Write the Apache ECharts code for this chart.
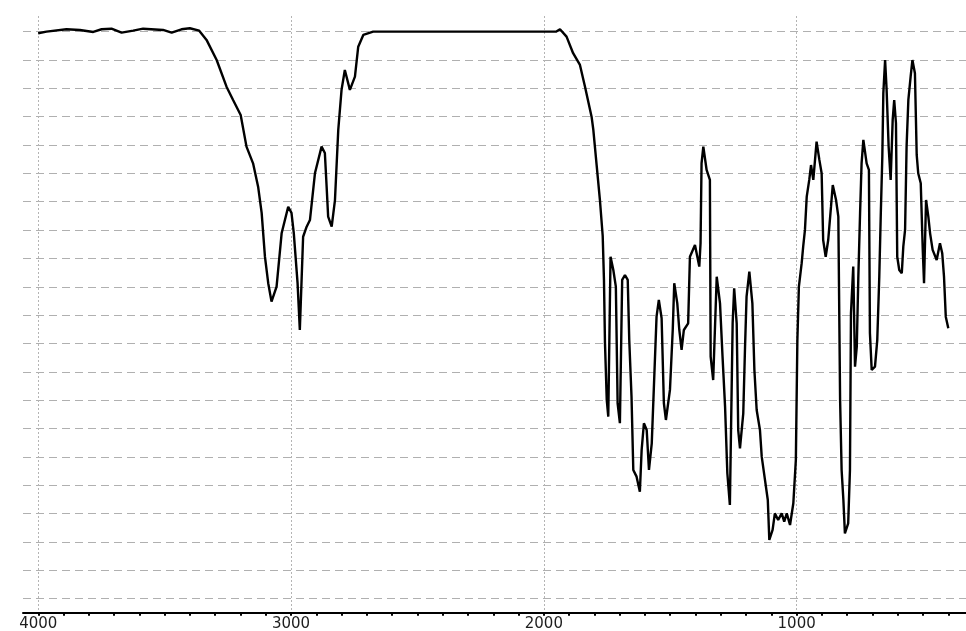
<!DOCTYPE html>
<html>
<head>
<meta charset="utf-8">
<script src="https://cdn.jsdelivr.net/npm/echarts@6/dist/echarts.min.js"></script>
<style>
html,body{margin:0;padding:0;background:#fff;}
#chart{width:966px;height:631px;}
</style>
</head>
<body>
<div id="chart"></div>
<script>
// Wavenumber (cm-1) and relative transmittance (grid units, 0..42)
const wavenumbers = [4000,3967,3888,3835,3782,3749,3710,3670,3624,3585,3506,3472,3433,3400,3363,3334,3294,3255,3229,3199,3176,3150,3130,3116,3103,3090,3077,3057,3037,3011,2998,2989,2974,2965,2952,2938,2925,2905,2879,2866,2859,2853,2839,2826,2813,2800,2787,2767,2747,2734,2714,2675,1952,1936,1910,1884,1857,1837,1811,1804,1791,1778,1767,1762,1758,1751,1745,1736,1725,1715,1708,1699,1690,1679,1668,1662,1653,1646,1633,1620,1613,1604,1593,1584,1573,1564,1554,1545,1534,1525,1517,1501,1490,1484,1472,1464,1455,1446,1429,1422,1402,1385,1380,1376,1369,1356,1343,1340,1330,1316,1303,1293,1283,1274,1264,1253,1247,1237,1231,1224,1211,1204,1198,1187,1175,1167,1158,1145,1138,1125,1114,1108,1095,1086,1073,1059,1049,1039,1026,1013,1003,997,991,980,974,967,960,950,943,934,921,910,901,895,885,875,864,857,844,835,828,822,815,809,796,789,785,776,769,762,756,749,743,736,723,714,710,703,690,681,673,667,661,657,650,644,636,628,620,614,607,602,594,584,578,571,565,558,549,542,532,525,519,509,501,496,488,479,472,462,446,433,424,417,410,400];
const transmittance = [40.89,41.00,41.17,41.12,40.98,41.17,41.21,40.93,41.07,41.21,41.12,40.93,41.17,41.24,41.07,40.42,39.00,37.12,36.18,35.12,32.89,31.71,30.06,28.21,25.12,23.25,21.95,23.01,26.77,28.65,28.21,26.80,23.27,19.95,26.53,27.24,27.71,31.03,32.89,32.44,30.06,27.95,27.24,29.12,34.06,36.89,38.30,36.89,37.83,39.94,40.77,41.00,41.00,41.17,40.65,39.48,38.65,37.12,35.00,34.06,31.59,29.12,26.58,23.48,19.03,15.01,13.83,25.12,24.18,23.01,14.78,13.37,23.48,23.83,23.48,19.24,15.24,10.07,9.60,8.54,11.48,13.37,12.89,10.07,11.95,16.19,20.89,22.07,20.78,14.78,13.60,15.72,19.95,23.25,21.83,19.95,18.54,19.95,20.42,25.12,25.95,24.42,26.07,31.71,32.89,31.24,30.54,18.07,16.42,23.71,21.83,18.07,14.54,9.84,7.60,20.42,22.89,20.42,12.89,11.60,14.07,18.77,22.30,24.06,21.83,17.13,14.30,12.89,11.01,9.36,7.95,5.13,5.84,7.01,6.54,7.01,6.42,7.01,6.19,7.72,10.78,19.24,23.01,24.66,25.83,27.01,29.36,30.54,31.59,30.54,33.24,31.95,31.01,26.30,25.12,26.30,28.65,30.18,29.12,27.95,15.01,10.07,7.95,5.60,6.31,10.07,21.13,24.42,17.36,18.77,23.60,28.19,31.71,33.36,31.71,31.24,19.72,17.13,17.36,19.24,23.71,28.19,32.18,36.65,39.00,36.89,32.89,30.54,34.77,36.18,34.54,25.12,24.18,23.95,25.83,27.01,32.89,36.18,37.83,39.00,38.07,32.30,31.01,30.30,25.60,23.25,29.12,27.95,26.77,25.60,24.89,26.07,25.36,23.71,20.89,20.07];
const xTickLabels = [4000, 3000, 2000, 1000];

const seriesData = wavenumbers.map((w, i) => [w, transmittance[i]]);

const chart = echarts.init(document.getElementById('chart'), null, {renderer: 'canvas'});
chart.setOption({
  animation: false,
  backgroundColor: '#ffffff',
  grid: [
    {left: 23, right: 0, top: 17.5, bottom: 18.3, outerBoundsMode: 'none', containLabel: false},
    {left: 38.3, width: 1011.1, top: 16, bottom: 18.3, outerBoundsMode: 'none', containLabel: false}
  ],
  xAxis: [
    {
      type: 'value', gridIndex: 0, min: 330, max: 4060, inverse: true,
      axisLine: {show: true, onZero: false, lineStyle: {color: '#000', width: 2}},
      axisTick: {show: false}, axisLabel: {show: false},
      splitLine: {show: false}
    },
    {
      type: 'value', gridIndex: 1, min: 0, max: 4000, interval: 1000, inverse: true,
      axisLine: {show: false, onZero: false},
      axisTick: {show: true, length: 3, lineStyle: {color: '#000', width: 2}},
      minorTick: {show: true, splitNumber: 10, length: 3, lineStyle: {color: '#000', width: 2}},
      axisLabel: {
        show: true, margin: 4, color: '#1e1e1e', fontSize: 15,
        fontFamily: 'DejaVu Sans', showMinLabel: true, showMaxLabel: true,
        formatter: v => xTickLabels.indexOf(v) >= 0 ? String(v) : ''
      },
      splitLine: {show: true, lineStyle: {color: '#b4b4b4', width: 1, type: [2, 2]}}
    }
  ],
  yAxis: [
    {
      type: 'value', gridIndex: 0, min: 0, max: 42, interval: 2,
      axisLine: {show: false}, axisTick: {show: false}, axisLabel: {show: false},
      splitLine: {show: false},
      minorTick: {show: false, splitNumber: 2},
      minorSplitLine: {show: true, lineStyle: {color: '#b0b0b0', width: 1, type: [8, 5]}}
    },
    {
      type: 'value', gridIndex: 1, min: 0, max: 1,
      axisLine: {show: false}, axisTick: {show: false}, axisLabel: {show: false},
      splitLine: {show: false}
    }
  ],
  series: [
    {
      type: 'line', xAxisIndex: 0, yAxisIndex: 0,
      data: seriesData, showSymbol: false, symbol: 'none', clip: false,
      lineStyle: {color: '#000', width: 2.4}
    }
  ]
});
</script>
</body>
</html>
